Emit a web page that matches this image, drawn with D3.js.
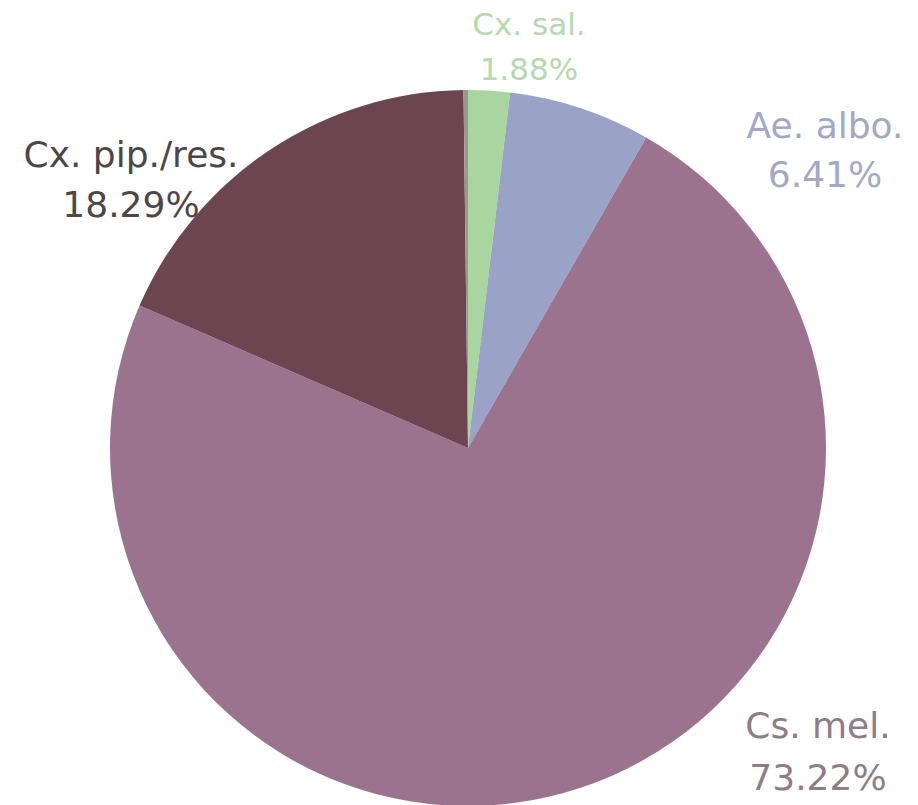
<!DOCTYPE html>
<html><head><meta charset="utf-8">
<script src="https://cdn.jsdelivr.net/npm/d3@7"></script>
<style>body{margin:0;background:#fff;overflow:hidden}</style>
</head><body>
<svg id="c" width="918" height="805"></svg>
<script>
const categories = ["Cx. sal.", "Ae. albo.", "Cs. mel.", "Cx. pip./res.", ""];
const values = [1.88, 6.41, 73.22, 18.29, 0.20];
const labels = ["1.88%", "6.41%", "73.22%", "18.29%", ""];

// presentation (not data)
const colors = ["#a9d6a0", "#9aa2c8", "#9c738e", "#6d4550", "#9a9a8a"];
const textColors = ["#b6d8ad", "#a3a8c7", "#8e7c89", "#4d4649", "#000"];
const labelLayout = [
  {x: 529, y: 35, dy: 45, size: 31},
  {x: 825, y: 138, dy: 49, size: 36},
  {x: 818, y: 738, dy: 52, size: 36},
  {x: 131, y: 167, dy: 50, size: 36}
];

const svg = d3.select("#c");
const cx = 468, cy = 448, r = 358;
const pie = d3.pie().sort(null).value(d => d.v);
const data = categories.map((c, i) => ({c, v: values[i], i}));
const arcs = pie(data);
const arc = d3.arc().innerRadius(0).outerRadius(r);
const g = svg.append("g").attr("transform", `translate(${cx},${cy})`);
g.selectAll("path").data(arcs).join("path")
  .attr("d", arc)
  .attr("fill", d => colors[d.data.i]);

const lg = svg.append("g").style("font-family", "'DejaVu Sans', sans-serif");
labelLayout.forEach((p, i) => {
  const t = lg.append("text").attr("x", p.x).attr("y", p.y)
    .attr("text-anchor", "middle").attr("fill", textColors[i])
    .style("font-size", p.size + "px");
  t.append("tspan").attr("x", p.x).text(categories[i]);
  t.append("tspan").attr("x", p.x).attr("dy", p.dy).text(labels[i]);
});
</script>
</body></html>
